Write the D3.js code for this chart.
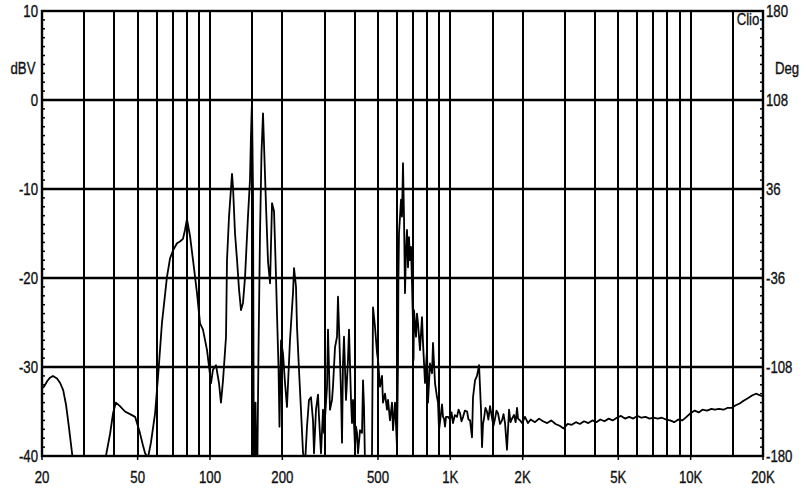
<!DOCTYPE html>
<html>
<head>
<meta charset="utf-8">
<script src="https://cdn.jsdelivr.net/npm/d3@7"></script>
<style>
  html, body { margin: 0; padding: 0; background: #ffffff; }
  svg { display: block; }
  text { font-family: "Liberation Sans", Arial, sans-serif; fill: #111; }
</style>
</head>
<body>
<svg id="chart" width="806" height="491"></svg>
<script>
// ---------- data ----------
const freqHz = [
  20, 20.4, 21.0, 21.6, 22.2, 23.1, 23.8, 24.5, 25.2, 25.9, 26.7, 27.4, 28.5, 31, 35,
  36.2, 36.9, 38.4, 39.5, 40.6, 42.2, 44.3, 46.5, 48.8, 51.1, 52.6, 53.7, 55.2, 56.8, 59.1,
  60.8, 63.1, 66.2, 68.2, 70.2, 72.9, 75.0, 77.2, 78.7, 80.2, 82.6, 85.0, 88.3, 90.9, 93.5,
  97.2, 101, 102.9, 105.9, 109.0, 111.1, 113.3, 116.6, 117.7, 120.0, 123.5, 124.7, 127.1, 129.6, 132.1,
  134.6, 137.2, 139.9, 143.9, 146.7, 148.1, 149.5, 151.0, 152.4, 154.7, 156.9, 159.2, 161.5, 163.8, 166.2,
  167.8, 171.1, 174.4, 177.8, 181.2, 184.7, 187.4, 190.0, 192.8, 194.6, 197.5, 201.3, 205.2, 209.1, 215.2,
  221.5, 223.7, 228.0, 230.2, 234.6, 239.1, 243.8, 248.5, 253.3, 258.2, 263.2, 268.3, 270.9, 276.1, 281.5,
  284.2, 289.7, 295.3, 298.2, 306.9, 309.8, 312.8, 315.7, 321.9, 324.9, 331.3, 337.7, 340.9, 344.2, 350.9,
  354.3, 357.6, 361.1, 368.1, 375.2, 378.8, 386.2, 389.9, 393.6, 401.3, 405.1, 409.0, 412.9, 421.0, 429.1,
  433.3, 437.4, 441.6, 454.5, 463.3, 472.2, 476.8, 486.0, 495.4, 500.2, 509.9, 519.8, 524.7, 534.9, 545.2,
  550.5, 561.1, 571.9, 577.5, 588.6, 600.0, 605.8, 608, 611.6, 623.5, 629.4, 635.5, 641.6, 647.8, 654.1,
  660.3, 666.7, 673.0, 679.6, 686.2, 692.7, 699.4, 703, 706.1, 719.9, 726.7, 733.7, 747.9, 762.4, 769.8,
  784.6, 799.8, 807.6, 823.1, 839.2, 847.2, 863.5, 880.4, 888.8, 897.4, 914.7, 923.6, 932.6, 941.5, 950.6,
  959.6, 978.4, 997.3, 1012, 1026, 1045, 1066, 1082, 1098, 1113, 1130, 1150, 1174, 1190, 1208,
  1231, 1243, 1267, 1291, 1317, 1342, 1355, 1368, 1381, 1400, 1421, 1440, 1463, 1491, 1512,
  1535, 1556, 1579, 1610, 1641, 1665, 1689, 1721, 1755, 1780, 1806, 1841, 1870, 1895, 1913,
  1950, 1988, 2045, 2105, 2160, 2250, 2340, 2430, 2530, 2630, 2740, 2850, 2960, 3080, 3200,
  3330, 3460, 3600, 3750, 3900, 4050, 4210, 4380, 4560, 4740, 4930, 5130, 5330, 5550, 5770,
  6000, 6240, 6490, 6750, 7020, 7300, 7590, 7900, 8210, 8540, 8880, 9240, 9610, 9990, 10400,
  10800, 11200, 11700, 12200, 12600, 13100, 13700, 14200, 14800, 15400, 16000, 16600, 17300, 18000, 18700,
  19500, 20000
];
const levelDbv = [
  -32.4, -32.2, -31.6, -31.2, -31.0, -31.3, -31.8, -32.6, -34.3, -36.8, -39.8, -43, -47, -50, -47,
  -42, -40, -37.5, -35.2, -34.0, -34.4, -35.0, -35.3, -35.6, -37.4, -38.8, -39.7, -40.2, -38.5, -35.2,
  -31.1, -25.1, -19.9, -17.8, -16.9, -16.1, -15.9, -15.6, -14.6, -13.4, -15.3, -18.0, -21.7, -25.1, -25.8,
  -28.1, -31.8, -30.3, -29.8, -31.8, -34.0, -31.5, -26.6, -18.0, -13.1, -8.3, -9.8, -15.0, -18.0, -21.3,
  -23.6, -22.8, -19.9, -13.1, -9.0, -4.0, -0.2, -10, -45, -34, -45, -28, -15, -6, -1.5,
  -5, -12, -18.2, -20.6, -11.6, -12.5, -18, -24, -30, -36.7, -27, -28.5, -31.8, -34.5, -27,
  -21.7, -18.9, -21.0, -25.5, -30.3, -34.8, -39.6, -41, -36.7, -33.7, -33.4, -36.0, -39.7, -34.8, -33.1,
  -35.6, -39.7, -34.8, -37.4, -32.2, -25.8, -30.3, -34.8, -33.7, -32.2, -27.8, -26.6, -22.1, -25.5, -32.9,
  -38.5, -29.6, -26.6, -33.7, -29.2, -25.8, -33.7, -36.3, -33.7, -39.0, -36.7, -37.4, -39.7, -37.1, -37.4,
  -31.5, -34.5, -41, -43, -42, -39.7, -23.3, -25.5, -28.4, -29.2, -32.2, -31.0, -34.0, -33.0, -34.8,
  -33.7, -36.0, -34.0, -37.1, -34.0, -39.0, -29.6, -20.6, -15.0, -11.2, -13.1, -7.1, -13.1, -21.7, -16.9,
  -14.6, -18.8, -15.4, -18.0, -16.5, -20.6, -25.1, -29.2, -23.6, -26.6, -24.0, -25.1, -28.1, -24.4, -27.3,
  -31.8, -28.1, -34.0, -29.6, -30.7, -27.3, -31.8, -33.4, -34.0, -37.1, -35.2, -34.2, -35.6, -35.8, -36.7,
  -35.6, -35.6, -35.9, -35.1, -36.3, -35.4, -35.6, -34.8, -35.2, -36.1, -35.6, -34.9, -35.0, -35.9, -36.0,
  -37.9, -33.4, -31.5, -31.0, -29.8, -34.8, -39.0, -36.4, -35.8, -34.6, -35.0, -35.9, -34.4, -35.7, -36.6,
  -35.8, -34.9, -35.2, -36.4, -36.0, -35.3, -36.3, -39.3, -34.8, -36.2, -35.8, -35.4, -36.2, -34.6, -35.8,
  -36.0, -36.3, -35.6, -36.3, -35.9, -36.2, -35.8, -36.1, -36.3, -36.0, -36.4, -36.6, -36.9, -36.4, -36.5,
  -36.2, -36.4, -36.1, -36.3, -36.0, -36.2, -35.9, -36.1, -35.8, -36.0, -35.7, -35.5, -35.8, -35.6, -35.8,
  -35.5, -35.7, -35.6, -35.8, -35.7, -35.8, -35.7, -35.9, -36.0, -36.2, -35.9, -36.0, -35.6, -35.2, -34.9,
  -35.1, -34.8, -34.9, -34.7, -34.8, -34.7, -34.8, -34.6, -34.6, -34.3, -34.1, -33.8, -33.5, -33.2, -33.0,
  -33.2, -33.3
];
const gridFreqs = [30, 40, 50, 60, 70, 80, 90, 100, 150, 200, 300, 400, 500, 600, 700, 800, 900,
                   1000, 1500, 2000, 3000, 4000, 5000, 6000, 7000, 8000, 9000, 10000, 15000];
const xTickFreqs = [20, 50, 100, 200, 500, 1000, 2000, 5000, 10000, 20000];
const xTickLabels = ["20", "50", "100", "200", "500", "1K", "2K", "5K", "10K", "20K"];
const dbTicks = [10, 0, -10, -20, -30, -40];
const degTicks = [180, 108, 36, -36, -108, -180];

// ---------- layout ----------
const plotL = 42, plotR = 763, plotT = 11, plotB = 456;
const svg = d3.select("#chart");

const x = d3.scaleLog().domain([20, 20000]).range([plotL, plotR]);
const y = d3.scaleLinear().domain([-40, 10]).range([plotB, plotT]);
const yDeg = d3.scaleLinear().domain([-180, 180]).range([plotB, plotT]);

// vertical grid
svg.append("g").selectAll("line").data(gridFreqs).join("line")
  .attr("x1", d => Math.round(x(d))).attr("x2", d => Math.round(x(d)))
  .attr("y1", plotT).attr("y2", plotB)
  .attr("stroke", "#000").attr("stroke-width", 2);

// horizontal grid
svg.append("g").selectAll("line").data([0, -10, -20, -30]).join("line")
  .attr("x1", plotL).attr("x2", plotR)
  .attr("y1", d => y(d)).attr("y2", d => y(d))
  .attr("stroke", "#000").attr("stroke-width", 2.6);

// frame
svg.append("rect").attr("x", plotL).attr("y", plotT)
  .attr("width", plotR - plotL).attr("height", plotB - plotT)
  .attr("fill", "none").attr("stroke", "#000").attr("stroke-width", 2.4);

// minor ticks on left and right edges (1 dB)
const minor = d3.range(-40, 10.01, 1);
svg.append("g").selectAll("line").data(minor).join("line")
  .attr("x1", plotL).attr("x2", plotL + 3)
  .attr("y1", d => y(d)).attr("y2", d => y(d))
  .attr("stroke", "#000").attr("stroke-width", 1.5);
svg.append("g").selectAll("line").data(minor).join("line")
  .attr("x1", plotR - 3).attr("x2", plotR)
  .attr("y1", d => y(d)).attr("y2", d => y(d))
  .attr("stroke", "#000").attr("stroke-width", 1.5);

// bottom ticks
svg.append("g").selectAll("line").data(xTickFreqs).join("line")
  .attr("x1", d => x(d)).attr("x2", d => x(d))
  .attr("y1", plotB).attr("y2", plotB + 4)
  .attr("stroke", "#000").attr("stroke-width", 1.5);

// curve
svg.append("clipPath").attr("id", "plotclip").append("rect")
  .attr("x", plotL).attr("y", plotT).attr("width", plotR - plotL).attr("height", plotB - plotT);
const n = Math.min(freqHz.length, levelDbv.length);
const pts = d3.range(n).map(i => [freqHz[i], levelDbv[i]]);
const line = d3.line().x(d => x(d[0])).y(d => y(d[1]));
svg.append("path").datum(pts)
  .attr("clip-path", "url(#plotclip)")
  .attr("d", line)
  .attr("fill", "none").attr("stroke", "#000").attr("stroke-width", 1.8)
  .attr("stroke-linejoin", "round");

// labels
const fs = 16.5, sx = 0.8;
function label(txt, px, py, anchor) {
  svg.append("text")
    .attr("transform", `translate(${px},${py}) scale(${sx},1)`)
    .attr("text-anchor", anchor)
    .attr("dominant-baseline", "central")
    .attr("font-size", fs)
    .attr("stroke", "#111").attr("stroke-width", 0.35)
    .text(txt);
}
dbTicks.forEach(d => label(String(d), 38, y(d), "end"));
degTicks.forEach(d => label(String(d), 766, yDeg(d), "start"));
xTickFreqs.forEach((f, i) => label(xTickLabels[i], x(f), 477, "middle"));
label("dBV", 23, 68, "middle");
label("Deg", 787, 68, "middle");
label("Clio", 748, 19, "middle");
</script>
</body>
</html>
